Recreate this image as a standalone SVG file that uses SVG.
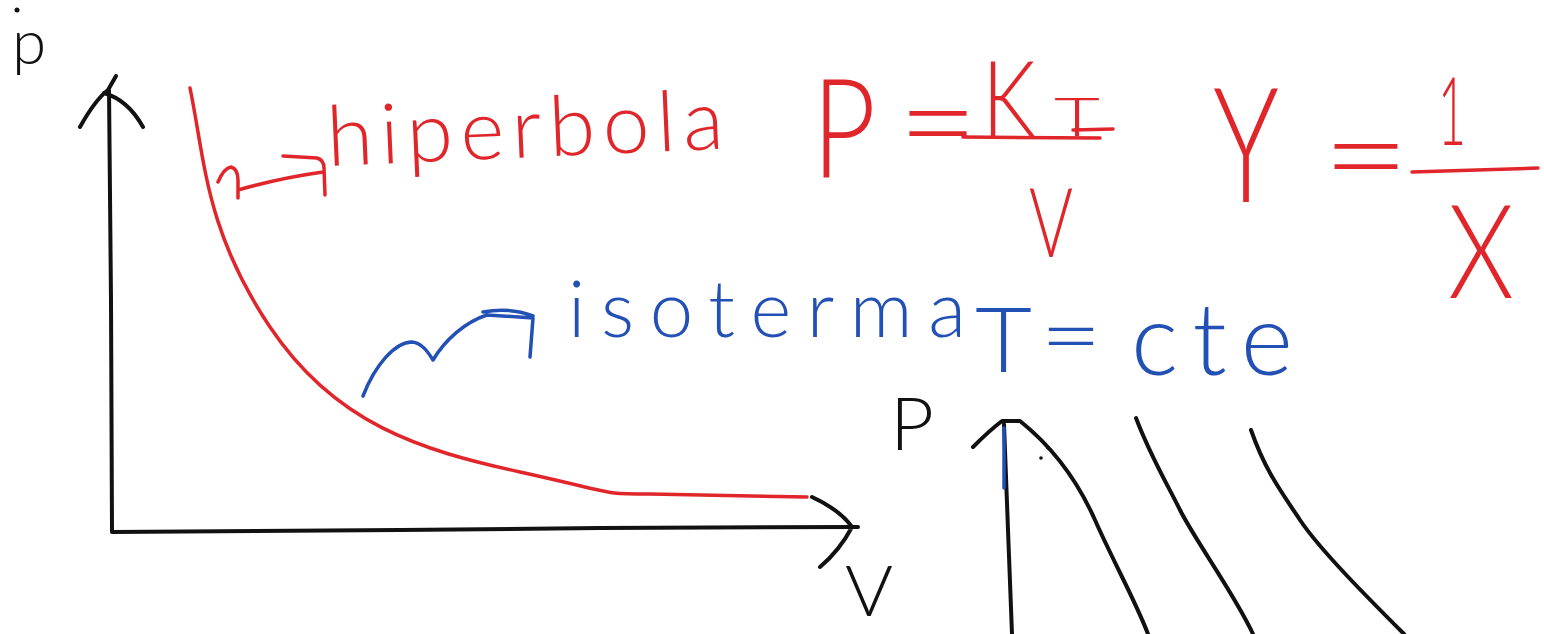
<svg xmlns="http://www.w3.org/2000/svg" width="1544" height="634" viewBox="0 0 1544 634">
<style>
.ink{fill:none;stroke-linecap:round;stroke-linejoin:round}
.k{stroke:#111;stroke-width:4}
.r{stroke:#e0262b;stroke-width:3.5}
.b{stroke:#2350b5;stroke-width:3.5}
.t{font-family:"Lato","Roboto","Open Sans","DejaVu Sans",sans-serif;font-weight:300}
.tk{fill:#111}.tr{fill:#e0262b}.tb{fill:#2350b5}
</style>
<rect width="1544" height="634" fill="#fff"/>
<g id="graph-left">
  <path class="ink k" d="M112,531 L111,300 L109,90 M80,127 Q95,100 108,90 L116,76 M104,93 Q128,100 143,127"/>
  <path class="ink k" d="M112,532 L400,530 L600,528 L858,527 M812,497 Q840,510 852,527 Q840,550 820,567"/>
  <path class="ink r" d="M190,88 C205,160 205,230 270,327 S420,450 520,472 S600,494 650,494 L807,497"/>
  <text class="t tk" x="12" y="64" font-size="62">p</text>
  <circle cx="17" cy="10" r="2.5" fill="#111"/>
  <text class="t tk" x="845" y="616" font-size="70" textLength="48" lengthAdjust="spacingAndGlyphs">V</text>
</g>
<g id="graph-right">
  <path class="ink k" d="M1004,424 L1008,530 L1012,634"/>
  <path class="ink b" stroke-width="4" d="M1004,428 L1004,488"/>
  <path class="ink k" d="M973,447 Q990,430 1002,421 L1020,421 C1050,445 1075,475 1095,520 S1135,600 1148,634"/>
  <circle cx="1041" cy="458" r="1.8" fill="#111"/>
  <circle cx="1048" cy="448" r="1.8" fill="#111"/>
  <path class="ink k" d="M1136,418 C1150,455 1165,480 1180,510 S1235,595 1253,634"/>
  <path class="ink k" d="M1251,430 C1265,470 1280,490 1300,520 S1370,600 1404,634"/>
  <text class="t tk" x="890" y="450" font-size="72" textLength="44" lengthAdjust="spacingAndGlyphs">P</text>
</g>
<g id="hiperbola-label">
  <text class="t tr" x="328" y="166" font-size="84" textLength="397" lengthAdjust="spacing" transform="rotate(-2.5 328 166)">hiperbola</text>
</g>
<g id="formula-pkt">
  <text class="t tr" x="812" y="177" font-size="138" textLength="64" lengthAdjust="spacingAndGlyphs">P</text>
  <text class="t tr" x="898" y="167" font-size="130" textLength="80" lengthAdjust="spacingAndGlyphs">=</text>
  <text class="t tr" x="982" y="137" font-size="106" textLength="54" lengthAdjust="spacingAndGlyphs">K</text>
  <text class="t tr" x="1054" y="136" font-size="54" textLength="46" lengthAdjust="spacingAndGlyphs">T</text>
  <path class="ink r" d="M963,137 L1100,138 M1073,130 L1113,129"/>
  <text class="t tr" x="1029" y="257" font-size="96" textLength="44" lengthAdjust="spacingAndGlyphs">V</text>
</g>
<g id="formula-yx">
  <text class="t tr" x="1213" y="202" font-size="160" textLength="66" lengthAdjust="spacingAndGlyphs">Y</text>
  <text class="t tr" x="1322" y="200" font-size="130" textLength="88" lengthAdjust="spacingAndGlyphs">=</text>
  <text class="t tr" x="1438" y="145" font-size="95" textLength="28" lengthAdjust="spacingAndGlyphs">1</text>
  <path class="ink r" d="M1412,172 L1538,168"/>
  <text class="t tr" x="1448" y="298" font-size="130" textLength="66" lengthAdjust="spacingAndGlyphs">X</text>
</g>
<g id="isoterma-label">
  <text class="t tb" x="568" y="337" font-size="78" textLength="398" lengthAdjust="spacing">isoterma</text>
  <text class="t tb" x="975" y="372" font-size="90" textLength="57" lengthAdjust="spacingAndGlyphs">T</text>
  <text class="t tb" x="1040" y="367" font-size="90" textLength="62" lengthAdjust="spacingAndGlyphs">=</text>
  <text class="t tb" x="1131" y="375" font-size="100" textLength="162" lengthAdjust="spacing">cte</text>
</g>
<g id="connectors">
  <path class="ink r" d="M218,182 Q224,168 231,167 Q238,169 238,180 L238,198 M238,190 Q280,178 323,172 M283,156 L317,158 Q324,160 324,168 L325,195"/>
  <path class="ink b" d="M363,396 C375,365 395,342 412,342 C422,343 428,352 433,360 C445,340 465,322 487,315 L533,318 L530,357 M483,312 Q510,307 533,316"/>
</g>
</svg>
